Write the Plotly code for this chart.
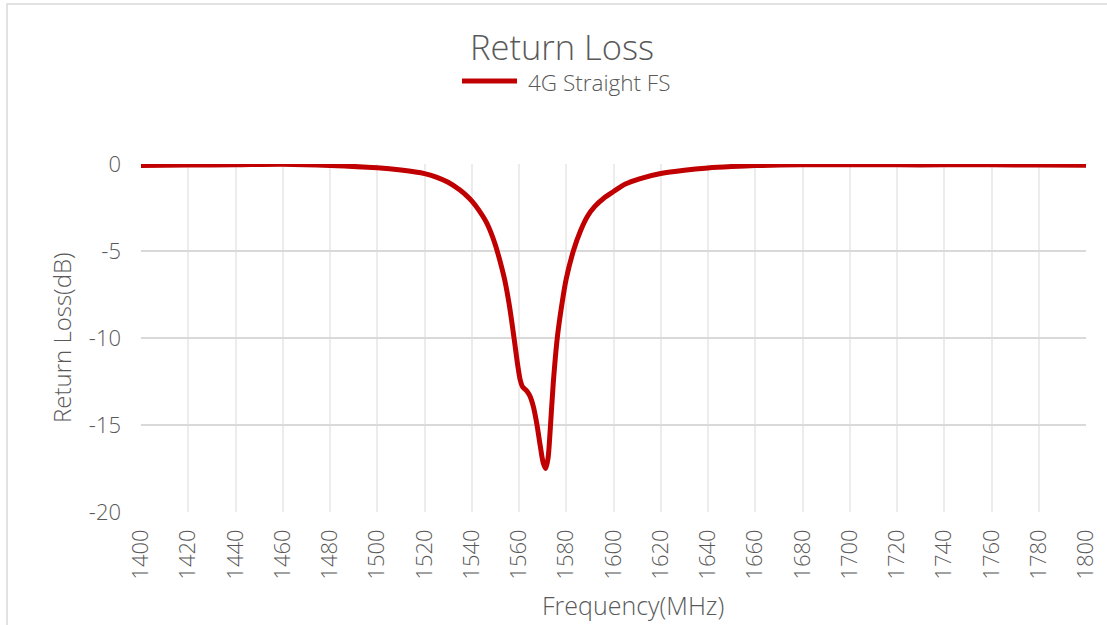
import plotly.graph_objects as go

freq_mhz = [1400, 1420, 1440, 1460, 1480, 1500, 1510, 1520, 1525, 1530, 1535, 1538,
            1540.25, 1543, 1546, 1548, 1550, 1552, 1554, 1556, 1558, 1559.5, 1560.5,
            1561.5, 1563, 1564.5, 1566, 1567.5, 1569, 1570.3, 1571.3, 1572.3, 1573.2,
            1574.5, 1576.2, 1578, 1580, 1583, 1586, 1589, 1592, 1596, 1600, 1605, 1611,
            1620, 1630, 1640, 1650, 1660, 1680, 1700, 1720, 1740, 1760, 1780, 1800]
return_loss_db = [-0.08, -0.06, -0.04, -0.01, -0.08, -0.22, -0.35, -0.55, -0.75, -1.05, -1.5, -1.85,
                  -2.16, -2.65, -3.3, -3.9, -4.65, -5.6, -6.7, -8.2, -10.1, -11.6, -12.4,
                  -12.8, -13.0, -13.3, -13.9, -14.9, -16.2, -17.2, -17.5, -16.9, -15.3,
                  -12.6, -10.0, -8.2, -6.6, -5.0, -3.85, -3.0, -2.45, -1.95, -1.58, -1.15, -0.85,
                  -0.55, -0.36, -0.23, -0.15, -0.09, -0.04, -0.04, -0.05, -0.05, -0.05, -0.06, -0.07]
series_name = "4G Straight FS"
x_ticks = list(range(1400, 1801, 20))
y_ticks = [0, -5, -10, -15, -20]

FONT = "Open Sans"
W = 300
GRAY = "#595959"
RED = "#C00000"

# plot-area geometry (pixels) used to convert page positions to paper coords
L, R, T, B = 141, 1086, 164, 512
PW, PH = R - L, B - T


def px(xp):
    return (xp - L) / PW


def py(yp):
    return (B - yp) / PH


fig = go.Figure()
fig.add_trace(go.Scatter(
    x=freq_mhz, y=return_loss_db, mode="lines", name=series_name, showlegend=False,
    line=dict(color=RED, width=5, shape="spline", smoothing=0.8),
))

fig.update_layout(
    width=1107, height=625,
    margin=dict(l=L, r=1107 - R, t=T, b=625 - B, autoexpand=False),
    paper_bgcolor="white", plot_bgcolor="white",
    font=dict(family=FONT, color=GRAY, size=22, weight=W),
    showlegend=False,
    annotations=[
        dict(text="Return Loss", x=px(562), xref="paper", y=py(46), yref="paper",
             xanchor="center", yanchor="middle", showarrow=False,
             font=dict(size=34.5, color=GRAY, family=FONT, weight=W)),
        dict(text=series_name, x=px(526), xref="paper", y=py(82), yref="paper",
             xanchor="left", yanchor="middle", showarrow=False,
             font=dict(size=22.5, color=GRAY, family=FONT, weight=W)),
        dict(text="Frequency(MHz)", x=px(633), xref="paper", y=py(605), yref="paper",
             xanchor="center", yanchor="middle", showarrow=False,
             font=dict(size=25, color=GRAY, family=FONT, weight=W)),
        dict(text="Return Loss(dB)", x=px(61), xref="paper", y=py(338), yref="paper",
             xanchor="center", yanchor="middle", showarrow=False, textangle=-90,
             font=dict(size=24, color=GRAY, family=FONT, weight=W)),
    ],
    shapes=[
        dict(type="rect", xref="paper", yref="paper",
             x0=px(7), x1=1.2, y0=-0.5, y1=py(4),
             line=dict(color="#d9d9d9", width=1.5), fillcolor="rgba(0,0,0,0)", layer="below"),
        dict(type="line", xref="paper", yref="paper",
             x0=px(462), x1=px(517), y0=py(81), y1=py(81),
             line=dict(color=RED, width=5)),
    ],
)

fig.update_xaxes(
    range=[1400, 1800], tickvals=x_ticks, ticktext=[str(v) for v in x_ticks],
    tickangle=-90, showgrid=True, gridcolor="#ececec", gridwidth=1.5,
    zeroline=False, showline=False, ticks="", ticklabelstandoff=12, automargin=False,
    tickfont=dict(size=22, color=GRAY, family=FONT, weight=W),
)
fig.update_yaxes(
    range=[-20, 0], tickvals=y_ticks, ticktext=[str(v) for v in y_ticks],
    showgrid=True, gridcolor="#d9d9d9", gridwidth=1.5,
    zeroline=False, showline=False, ticks="", ticklabelstandoff=19, automargin=False,
    tickfont=dict(size=22, color=GRAY, family=FONT, weight=W),
)

fig.write_html("out.html", config={"displayModeBar": False},
               post_script="document.body.style.margin='0px';")
